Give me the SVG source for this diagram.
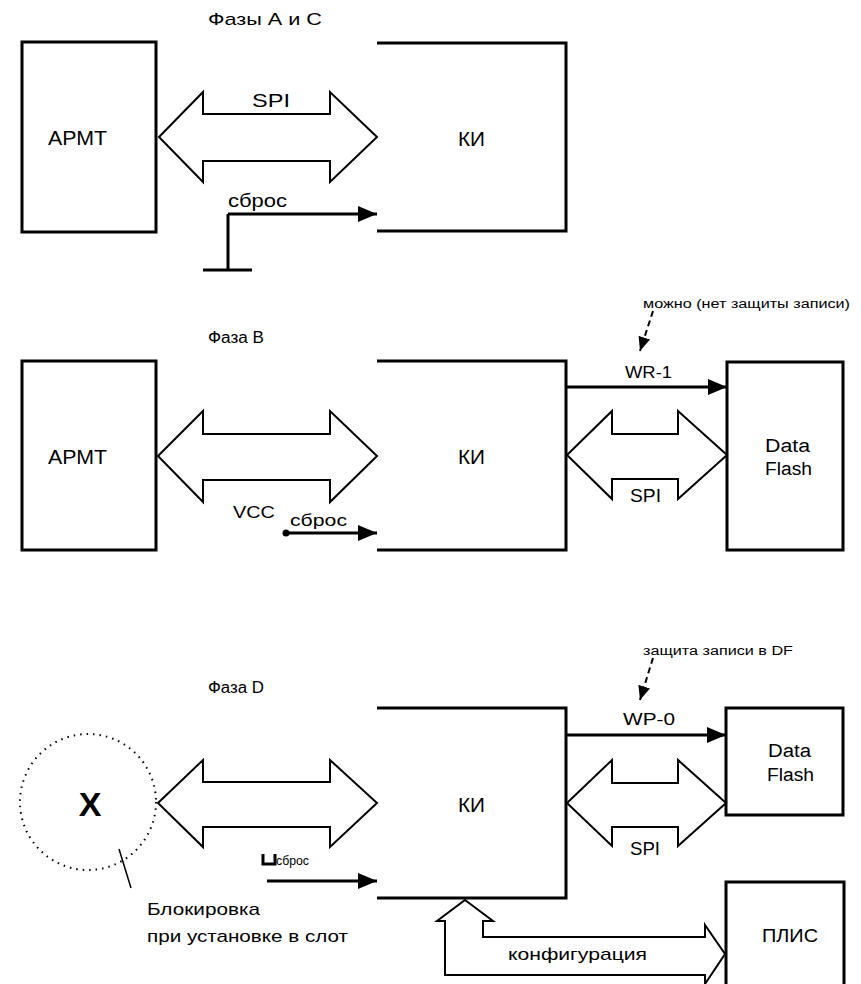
<svg xmlns="http://www.w3.org/2000/svg" width="861" height="984" viewBox="0 0 861 984">
<style>
  text { font-family: "Liberation Sans", Arial, sans-serif; fill: #000; }
  .box { fill: none; stroke: #000; stroke-width: 3; }
  .ln { fill: none; stroke: #000; stroke-width: 3; }
  .bus { fill: #fff; stroke: #000; stroke-width: 2; stroke-linejoin: miter; }
  .sig { fill: none; stroke: #000; stroke-width: 3; marker-end: url(#ah); }
  .dash { fill: none; stroke: #000; stroke-width: 2; stroke-dasharray: 6 4; marker-end: url(#ahs); }
  .t16 { font-size: 16px; }
  .t17 { font-size: 17px; }
  .t18 { font-size: 18px; }
  .t20 { font-size: 20px; }
  .t12 { font-size: 12px; }
  .mid { text-anchor: middle; }
</style>
<defs>
  <marker id="ah" viewBox="0 0 19 16" refX="19" refY="8" markerWidth="19" markerHeight="16" markerUnits="userSpaceOnUse" orient="auto">
    <path d="M0,0 L19,8 L0,16 Z" fill="#000"/>
  </marker>
  <marker id="ahs" viewBox="0 0 14 12" refX="14" refY="6" markerWidth="14" markerHeight="12" markerUnits="userSpaceOnUse" orient="auto">
    <path d="M0,0 L14,6 L0,12 Z" fill="#000"/>
  </marker>
</defs>

<!-- Phase A and C -->
<text class="t17" x="208" y="25" textLength="114" lengthAdjust="spacingAndGlyphs">Фазы А и С</text>
<g id="armt1">
  <rect class="box" x="22" y="42" width="134" height="190"/>
  <text class="t20" x="48" y="145" textLength="59" lengthAdjust="spacingAndGlyphs">АРМТ</text>
</g>
<g id="ki1">
  <path class="box" d="M377,43 H566 V231 H377"/>
  <text class="t20" x="458" y="146" textLength="27" lengthAdjust="spacingAndGlyphs">КИ</text>
</g>
<g id="ground1">
  <path class="ln" d="M228,214 V270 M203,270 H252"/>
</g>

<!-- Phase B -->
<text class="t16" x="208" y="343" textLength="56" lengthAdjust="spacingAndGlyphs">Фаза B</text>
<g id="armt2">
  <rect class="box" x="22" y="361" width="134" height="189"/>
  <text class="t20" x="48" y="464" textLength="59" lengthAdjust="spacingAndGlyphs">АРМТ</text>
</g>
<g id="ki2">
  <path class="box" d="M377,361 H566 V550 H377"/>
  <text class="t20" x="458" y="464" textLength="27" lengthAdjust="spacingAndGlyphs">КИ</text>
</g>
<g id="df2">
  <rect class="box" x="727" y="362" width="116" height="188"/>
  <text class="t18" x="765" y="452" textLength="45" lengthAdjust="spacingAndGlyphs">Data</text>
  <text class="t18" x="765" y="475" textLength="47" lengthAdjust="spacingAndGlyphs">Flash</text>
</g>
<text class="t12" x="643" y="308" textLength="207" lengthAdjust="spacingAndGlyphs">можно (нет защиты записи)</text>

<!-- Phase D -->
<text class="t16" x="208" y="693" textLength="56" lengthAdjust="spacingAndGlyphs">Фаза D</text>
<g id="slot">
  <circle cx="88" cy="802" r="68" fill="none" stroke="#000" stroke-width="2" stroke-dasharray="1.5 5"/>
  <text x="90" y="816" font-size="34" font-weight="bold" class="mid">X</text>
  <text class="t17" x="147" y="915" textLength="113" lengthAdjust="spacingAndGlyphs">Блокировка</text>
  <text class="t17" x="147" y="942" textLength="201" lengthAdjust="spacingAndGlyphs">при установке в слот</text>
</g>
<g id="ki3">
  <path class="box" d="M377,708 H566 V898 H377"/>
  <text class="t20" x="458" y="812" textLength="27" lengthAdjust="spacingAndGlyphs">КИ</text>
</g>
<g id="df3">
  <rect class="box" x="726" y="708" width="117" height="107"/>
  <text class="t18" x="768" y="757" textLength="43" lengthAdjust="spacingAndGlyphs">Data</text>
  <text class="t18" x="767" y="781" textLength="47" lengthAdjust="spacingAndGlyphs">Flash</text>
</g>
<g id="plis">
  <path class="box" d="M726,984 V882 H844 V984"/>
  <text class="t18" x="762" y="942" textLength="56" lengthAdjust="spacingAndGlyphs">ПЛИС</text>
</g>
<text class="t12" x="643" y="655" textLength="150" lengthAdjust="spacingAndGlyphs">защита записи в DF</text>

<g id="connectors">
  <!-- top -->
  <path class="bus" d="M159,137 L203,92 L203,114 L330,114 L330,92 L377,137 L330,182 L330,161 L203,161 L203,182 Z"/>
  <text class="t18" x="252" y="107" textLength="38" lengthAdjust="spacingAndGlyphs">SPI</text>
  <path class="sig" d="M228,214 H377"/>
  <text class="t18" x="228" y="207" textLength="59" lengthAdjust="spacingAndGlyphs">сброс</text>

  <!-- B -->
  <path class="bus" d="M158,456 L203,411 L203,434 L330,434 L330,411 L377,456 L330,502 L330,480 L203,480 L203,502 Z"/>
  <text class="t17" x="233" y="518" textLength="42" lengthAdjust="spacingAndGlyphs">VCC</text>
  <circle cx="286" cy="533" r="3.5" fill="#000"/>
  <path class="sig" d="M286,533 H377"/>
  <text class="t17" x="290" y="526" textLength="57" lengthAdjust="spacingAndGlyphs">сброс</text>
  <path class="sig" d="M566,387 H727"/>
  <text class="t17" x="625" y="378" textLength="47" lengthAdjust="spacingAndGlyphs">WR-1</text>
  <path class="bus" d="M567,455 L612,411 L612,434 L678,434 L678,411 L727,455 L678,499 L678,479 L612,479 L612,499 Z"/>
  <text class="t18" x="630" y="502" textLength="31" lengthAdjust="spacingAndGlyphs">SPI</text>
  <path class="dash" d="M653,311 L640,351"/>

  <!-- D -->
  <path class="bus" d="M158,803 L203,760 L203,782 L330,782 L330,760 L377,803 L330,847 L330,827 L203,827 L203,847 Z"/>
  <path d="M263,854 V864 H275 V854" fill="none" stroke="#000" stroke-width="3"/>
  <text x="276" y="865" font-size="13" textLength="33" lengthAdjust="spacingAndGlyphs">сброс</text>
  <path class="sig" d="M267,881 H377"/>
  <path d="M119,849 L131,888" fill="none" stroke="#000" stroke-width="1.5"/>
  <path class="sig" d="M566,735 H726"/>
  <text class="t17" x="623" y="725" textLength="52" lengthAdjust="spacingAndGlyphs">WP-0</text>
  <path class="bus" d="M567,803 L612,760 L612,783 L678,783 L678,760 L726,803 L678,846 L678,827 L612,827 L612,846 Z"/>
  <text class="t18" x="630" y="855" textLength="30" lengthAdjust="spacingAndGlyphs">SPI</text>
  <path class="dash" d="M653,658 L640,700"/>
  <path class="bus" d="M465,900 L493,921 L483,921 L483,937 L705,937 L705,925 L725,954 L705,984 L705,975 L445,975 L445,921 L437,921 Z"/>
  <text class="t17" x="508" y="960" textLength="139" lengthAdjust="spacingAndGlyphs">конфигурация</text>
</g>
</svg>
